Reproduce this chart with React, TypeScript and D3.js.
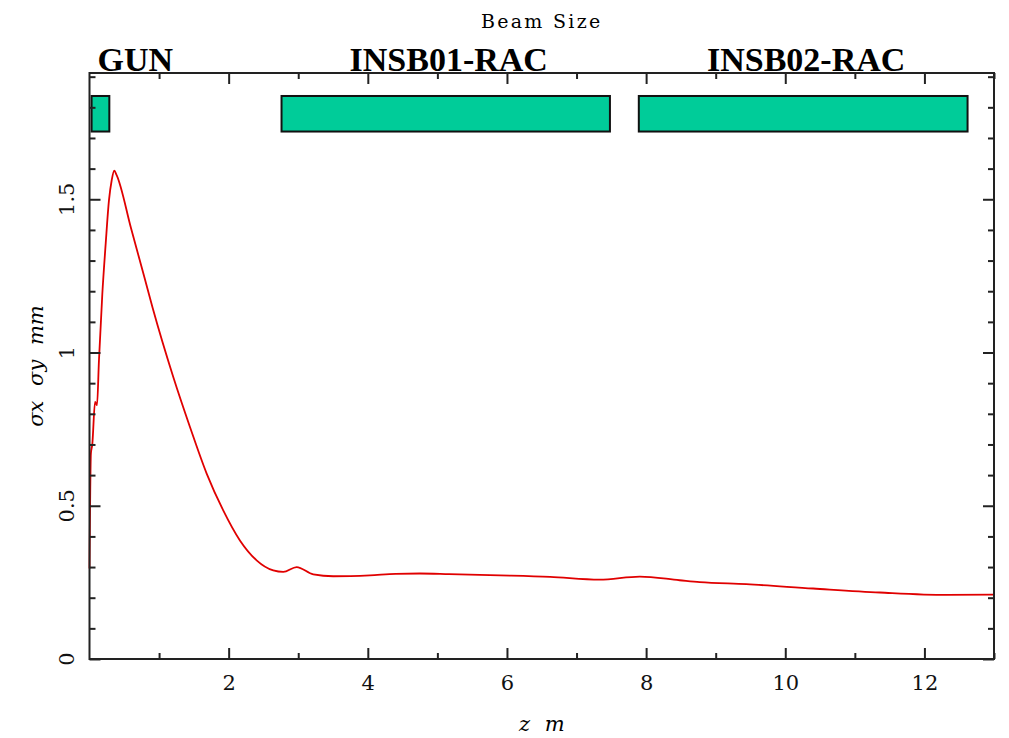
import React, { useRef, useEffect } from "react";
import * as d3 from "d3";

// beam size along z (m) -> sigma (mm)
const zValues = [
  0, 0.02, 0.04, 0.08, 0.108, 0.136, 0.184, 0.233, 0.28, 0.319, 0.356, 0.39,
  0.6, 0.787, 0.908, 1.204, 1.444, 1.684, 1.922, 2.162, 2.402, 2.641, 2.785, 2.977,
  3.216, 3.503, 4.03, 4.4, 4.75, 5.17, 5.9, 6.62, 7.33, 7.91, 8.48, 8.77, 9.44,
  10.4, 11.36, 12.32, 13.0,
];
const sigmaValues = [
  0.295, 0.67, 0.7, 0.839, 0.828, 0.975, 1.19, 1.356, 1.497, 1.562, 1.593, 1.579,
  1.403, 1.247, 1.145, 0.92, 0.757, 0.605, 0.485, 0.387, 0.322, 0.289, 0.284, 0.3,
  0.276, 0.27, 0.273, 0.278, 0.279, 0.277, 0.273, 0.268, 0.259, 0.269, 0.257, 0.251, 0.244,
  0.23, 0.217, 0.209, 0.21,
];

// beamline elements
const elementNames = ["GUN", "INSB01-RAC", "INSB02-RAC"];
const elementStart = [0.03, 2.76, 7.895];
const elementEnd = [0.285, 7.48, 12.62];

const xMajorTicks = [2, 4, 6, 8, 10, 12];
const xMinorTicks = [1, 3, 5, 7, 9, 11, 13];
const yMajorTicks = [0, 0.5, 1, 1.5];
const yMinorTicks = [0.1, 0.2, 0.3, 0.4, 0.6, 0.7, 0.8, 0.9, 1.1, 1.2, 1.3, 1.4, 1.6, 1.7, 1.8, 1.9];
const yTickLabels = ["0", "0.5", "1", "1.5"];

export default function App() {
  const ref = useRef<SVGSVGElement>(null);

  useEffect(() => {
    const width = 1009;
    const height = 738;
    const margin = { top: 73, right: 15, bottom: 79, left: 89.5 };
    const left = margin.left;
    const right = width - margin.right;
    const top = margin.top;
    const bottom = height - margin.bottom;

    const svg = d3.select(ref.current);
    svg.selectAll("*").remove();
    svg.attr("width", width).attr("height", height);

    const x = d3.scaleLinear().domain([0, 13]).range([left, right]);
    const y = d3.scaleLinear().domain([0, 1.912]).range([bottom, top]);

    const ink = "#222";
    const serif = "'DejaVu Serif', serif";

    // title
    svg.append("text")
      .attr("x", (left + right) / 2)
      .attr("y", 28)
      .attr("text-anchor", "middle")
      .attr("font-family", serif)
      .attr("font-size", 19)
      .attr("letter-spacing", 2.3)
      .text("Beam Size");

    // elements
    const elems = elementNames.map((name, i) => ({ name, s: elementStart[i], e: elementEnd[i] }));

    svg.selectAll(".elem")
      .data(elems)
      .enter()
      .append("rect")
      .attr("x", d => x(d.s))
      .attr("y", y(1.837))
      .attr("width", d => x(d.e) - x(d.s))
      .attr("height", y(1.721) - y(1.837))
      .attr("fill", "#00cc99")
      .attr("stroke", "#111")
      .attr("stroke-width", 2);

    svg.selectAll(".elem-label")
      .data(elems)
      .enter()
      .append("text")
      .attr("x", d => {
        const c = (x(d.s) + x(d.e)) / 2;
        return c < left + 60 ? left + 8 : c + 3;
      })
      .attr("y", 71)
      .attr("text-anchor", d => ((x(d.s) + x(d.e)) / 2 < left + 60 ? "start" : "middle"))
      .attr("font-family", "'Liberation Serif', serif")
      .attr("font-weight", "bold")
      .attr("font-size", 34)
      .text(d => d.name);

    // beam size curve
    const data = zValues.map((z, i) => ({ z, s: sigmaValues[i] }));
    const line = d3.line<{ z: number; s: number }>()
      .x(d => x(d.z))
      .y(d => y(d.s))
      .curve(d3.curveMonotoneX);

    svg.append("path")
      .datum(data)
      .attr("d", line)
      .attr("fill", "none")
      .attr("stroke", "#e00000")
      .attr("stroke-width", 1.8);

    // axes: ticks pointing inward on all four sides
    const styleAxis = (g: d3.Selection<SVGGElement, unknown, null, undefined>) => {
      g.select(".domain").remove();
      g.selectAll("line").attr("stroke", ink).attr("stroke-width", 2);
    };

    svg.append("g")
      .attr("transform", `translate(0,${bottom})`)
      .call(d3.axisBottom(x).tickValues(xMajorTicks).tickSize(-11).tickPadding(16).tickFormat(d3.format("d")))
      .call(styleAxis)
      .selectAll("text")
      .attr("font-family", serif)
      .attr("font-size", 21)
      .attr("fill", "#111");

    svg.append("g")
      .attr("transform", `translate(0,${bottom})`)
      .call(d3.axisBottom(x).tickValues(xMinorTicks).tickSize(-6).tickFormat(() => ""))
      .call(styleAxis);

    svg.append("g")
      .attr("transform", `translate(0,${top})`)
      .call(d3.axisTop(x).tickValues(xMajorTicks).tickSize(-11).tickFormat(() => ""))
      .call(styleAxis);

    svg.append("g")
      .attr("transform", `translate(0,${top})`)
      .call(d3.axisTop(x).tickValues(xMinorTicks).tickSize(-6).tickFormat(() => ""))
      .call(styleAxis);

    svg.append("g")
      .attr("transform", `translate(${left},0)`)
      .call(d3.axisLeft(y).tickValues(yMajorTicks).tickSize(-11).tickFormat(() => ""))
      .call(styleAxis);

    svg.append("g")
      .attr("transform", `translate(${left},0)`)
      .call(d3.axisLeft(y).tickValues(yMinorTicks).tickSize(-6).tickFormat(() => ""))
      .call(styleAxis);

    svg.append("g")
      .attr("transform", `translate(${right},0)`)
      .call(d3.axisRight(y).tickValues(yMajorTicks).tickSize(-11).tickFormat(() => ""))
      .call(styleAxis);

    svg.append("g")
      .attr("transform", `translate(${right},0)`)
      .call(d3.axisRight(y).tickValues(yMinorTicks).tickSize(-6).tickFormat(() => ""))
      .call(styleAxis);

    // rotated y tick labels
    svg.selectAll(".ylab")
      .data(yMajorTicks)
      .enter()
      .append("text")
      .attr("transform", d => `translate(74,${y(d)}) rotate(-90)`)
      .attr("text-anchor", "middle")
      .attr("font-family", serif)
      .attr("font-size", 21)
      .attr("fill", "#111")
      .text((d, i) => yTickLabels[i]);

    // frame
    svg.append("rect")
      .attr("x", left)
      .attr("y", top)
      .attr("width", right - left)
      .attr("height", bottom - top)
      .attr("fill", "none")
      .attr("stroke", ink)
      .attr("stroke-width", 2);

    // axis titles
    svg.append("text")
      .attr("x", (left + right) / 2)
      .attr("y", 731)
      .attr("text-anchor", "middle")
      .attr("font-family", serif)
      .attr("font-style", "italic")
      .attr("font-size", 21)
      .attr("word-spacing", 8)
      .text("z m");

    svg.append("text")
      .attr("transform", `translate(43,${(top + bottom) / 2}) rotate(-90)`)
      .attr("text-anchor", "middle")
      .attr("font-family", serif)
      .attr("font-style", "italic")
      .attr("font-size", 21)
      .attr("word-spacing", 8)
      .text("σx σy mm");
  }, []);

  return (
    <div style={{ position: "absolute", left: 0, top: 0, background: "#fff" }}>
      <svg ref={ref}></svg>
    </div>
  );
}
